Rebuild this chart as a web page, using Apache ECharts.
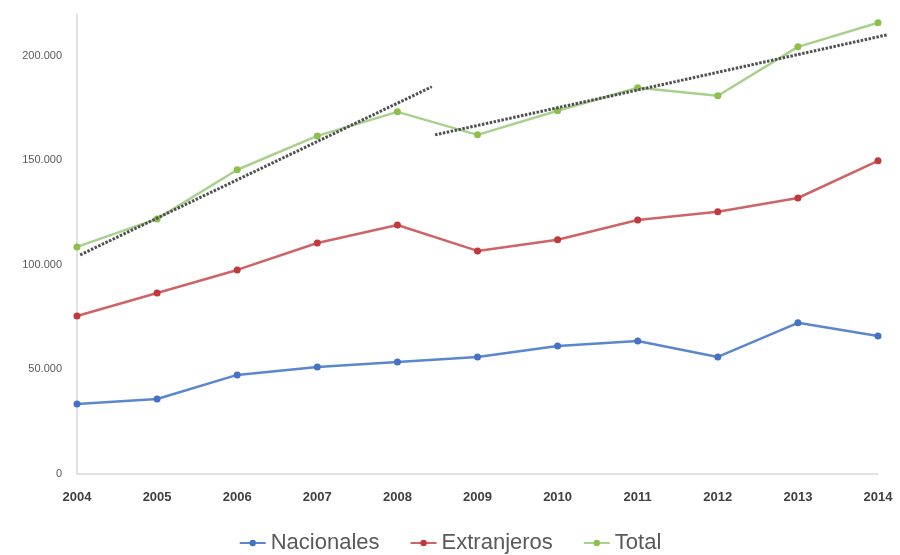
<!DOCTYPE html>
<html><head><meta charset="utf-8">
<script src="https://cdn.jsdelivr.net/npm/echarts@6/dist/echarts.min.js"></script>
<style>html,body{margin:0;padding:0;background:#fff}#c{width:900px;height:555px}</style>
</head><body><div id="c"></div>
<script>
var years = ['2004','2005','2006','2007','2008','2009','2010','2011','2012','2013','2014'];
var nacionales = [33500, 35900, 47400, 51200, 53600, 56000, 61200, 63600, 56000, 72300, 66000];
var extranjeros = [75600, 86600, 97600, 110500, 119100, 106700, 112000, 121500, 125400, 132000, 149800];
var total = [108600, 122000, 145500, 161700, 173200, 162200, 173700, 184700, 180900, 204300, 215800];
var trend1 = [[2004.04, 104800], [2008.43, 185200]];
var trend2 = [[2008.47, 162200], [2014.12, 210100]];
var yTicks = [0, 50000, 100000, 150000, 200000];

function fmt(v){ return v === 0 ? '0' : String(v).replace(/\B(?=(\d{3})+(?!\d))/g, '.'); }

var chart = echarts.init(document.getElementById('c'));
var trendStyle = {color:'#505050', width:3, type:[2.5,1.5]};
chart.setOption({
  animation:false,
  grid:[
    {left:77, right:22, top:14, bottom:81, containLabel:false},
    {left:77, right:10, top:14, bottom:81, containLabel:false}
  ],
  legend:{
    data:['Nacionales','Extranjeros','Total'],
    bottom:-4, left:'center', itemWidth:26, itemHeight:8, itemGap:30,
    textStyle:{fontFamily:'Liberation Sans Narrow, Arial Narrow, sans-serif', fontSize:22, color:'#595959'}
  },
  xAxis:[{
    type:'category', data:years, boundaryGap:false, gridIndex:0,
    axisLine:{lineStyle:{color:'#d9d9d9', width:1.5}},
    axisTick:{show:false},
    axisLabel:{color:'#404040', fontWeight:'bold', fontSize:13, margin:17, fontFamily:'Liberation Sans Narrow, sans-serif'},
    splitLine:{show:false}
  },{
    type:'value', gridIndex:1, min:2004, max:2014.15, show:false
  }],
  yAxis:[{
    type:'value', gridIndex:0, min:0, max:220000, interval:50000,
    axisLine:{show:true, lineStyle:{color:'#d9d9d9', width:1.5}},
    axisTick:{show:false},
    splitLine:{show:false},
    axisLabel:{color:'#595959', fontSize:11, margin:15, showMaxLabel:false,
      formatter:function(v){ return yTicks.indexOf(v) >= 0 ? fmt(v) : ''; }}
  },{
    type:'value', gridIndex:1, min:0, max:220000, show:false
  }],
  series:[
    {name:'Nacionales', type:'line', data:nacionales, symbol:'circle', symbolSize:7,
      itemStyle:{color:'#4472C4'}, lineStyle:{color:'#5b87cf', width:2.5}},
    {name:'Extranjeros', type:'line', data:extranjeros, symbol:'circle', symbolSize:7,
      itemStyle:{color:'#C0393B'}, lineStyle:{color:'#cd6467', width:2.5}},
    {name:'Total', type:'line', data:total, symbol:'circle', symbolSize:7,
      itemStyle:{color:'#8DC04A'}, lineStyle:{color:'#a9d18e', width:2.5}},
    {name:'t1', type:'line', xAxisIndex:1, yAxisIndex:1, data:trend1, symbol:'none', lineStyle:trendStyle, z:5, silent:true, clip:false},
    {name:'t2', type:'line', xAxisIndex:1, yAxisIndex:1, data:trend2, symbol:'none', lineStyle:trendStyle, z:5, silent:true, clip:false}
  ]
});
</script></body></html>
